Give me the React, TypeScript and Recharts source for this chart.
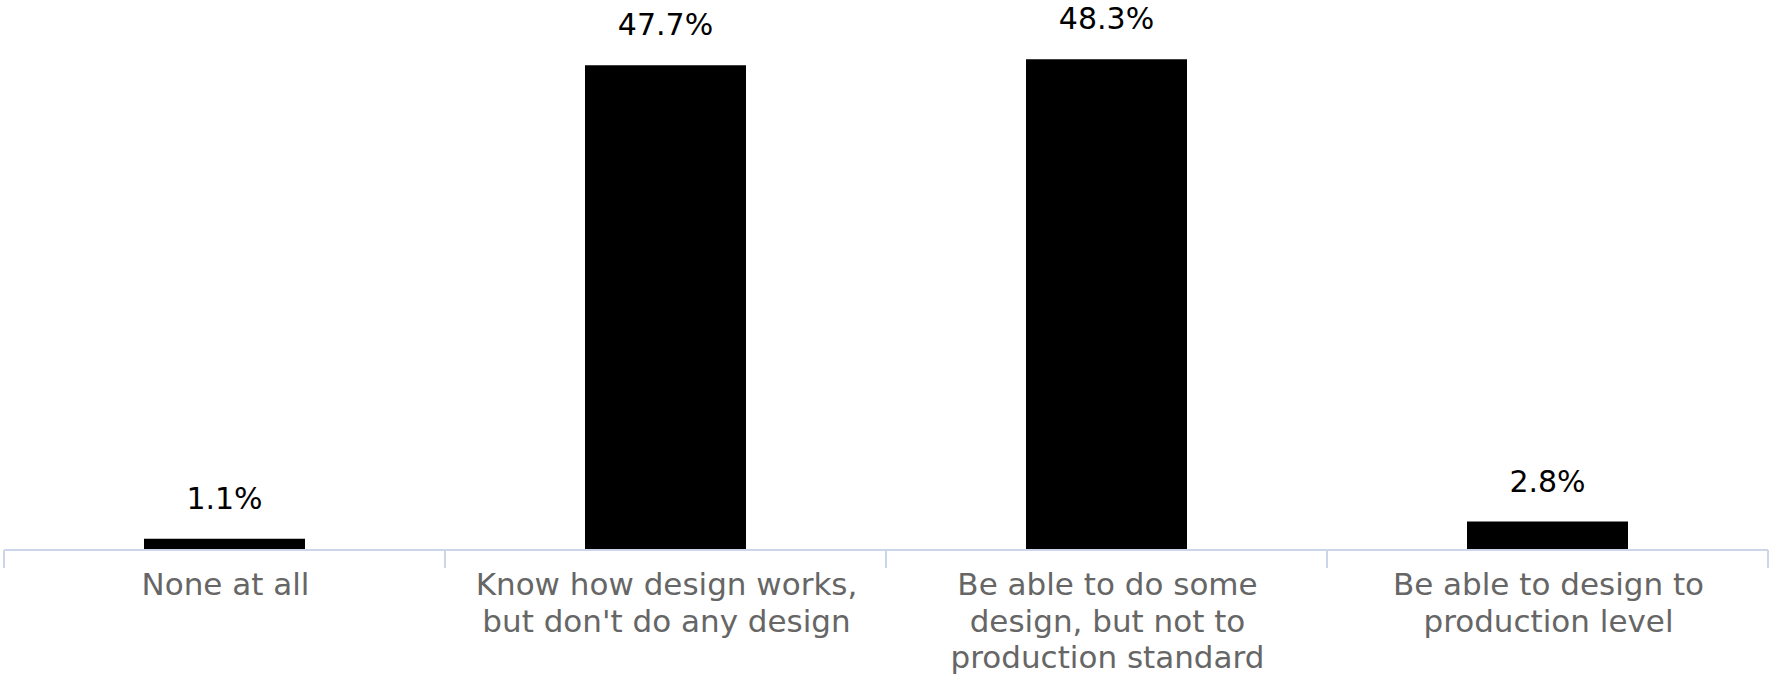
import React from 'react';
import { BarChart, Bar, XAxis, YAxis, LabelList } from 'recharts';

const categories = [
  'None at all',
  "Know how design works, but don't do any design",
  'Be able to do some design, but not to production standard',
  'Be able to design to production level',
];
const tickLabelLines: string[][] = [
  ['None at all'],
  ['Know how design works,', "but don't do any design"],
  ['Be able to do some', 'design, but not to', 'production standard'],
  ['Be able to design to', 'production level'],
];
const values = [1.1, 47.7, 48.3, 2.8];
const yDomain: [number, number] = [0, 50];

const CHART_W = 1769;
const CHART_H = 676;
const MARGIN = { top: 42, right: 1, left: 4, bottom: 0 };
const PLOT_W = CHART_W - MARGIN.left - MARGIN.right;
const HALF_BAND = PLOT_W / categories.length / 2;
const FONT = '"DejaVu Sans", Verdana, sans-serif';
const AXIS_COLOR = '#ccd6eb';

const data = categories.map((name, i) => ({ name, value: values[i] }));

function CategoryTick(props: any) {
  const { x, y, payload } = props;
  const idx = categories.indexOf(payload.value);
  const lines = tickLabelLines[idx] || [String(payload.value)];
  const isLast = idx === categories.length - 1;
  return (
    <g>
      <line x1={x - HALF_BAND} x2={x - HALF_BAND} y1={y} y2={y + 18} stroke={AXIS_COLOR} strokeWidth={2} />
      {isLast && (
        <line x1={x + HALF_BAND} x2={x + HALF_BAND} y1={y} y2={y + 18} stroke={AXIS_COLOR} strokeWidth={2} />
      )}
      <text x={x + 1} y={y + 45} textAnchor="middle" fill="#666666" fontSize={31} fontFamily={FONT}>
        {lines.map((l, i) => (
          <tspan key={i} x={x + 1} dy={i === 0 ? 0 : 36.7}>
            {l}
          </tspan>
        ))}
      </text>
    </g>
  );
}

export default function App() {
  return (
    <div style={{ position: 'absolute', left: 0, top: 0, width: CHART_W, height: CHART_H, background: '#fff' }}>
      <BarChart width={CHART_W} height={CHART_H} data={data} margin={MARGIN}>
        <XAxis
          dataKey="name"
          height={126}
          interval={0}
          tickSize={0}
          tickMargin={0}
          tickLine={false}
          axisLine={{ stroke: AXIS_COLOR, strokeWidth: 2 }}
          tick={<CategoryTick />}
        />
        <YAxis hide domain={yDomain} />
        <Bar dataKey="value" fill="#000000" barSize={161} isAnimationActive={false}>
          <LabelList
            dataKey="value"
            position="top"
            offset={30}
            formatter={(v: any) => `${v}%`}
            style={{ fill: '#000000', fontSize: 30, fontFamily: FONT }}
          />
        </Bar>
      </BarChart>
    </div>
  );
}
